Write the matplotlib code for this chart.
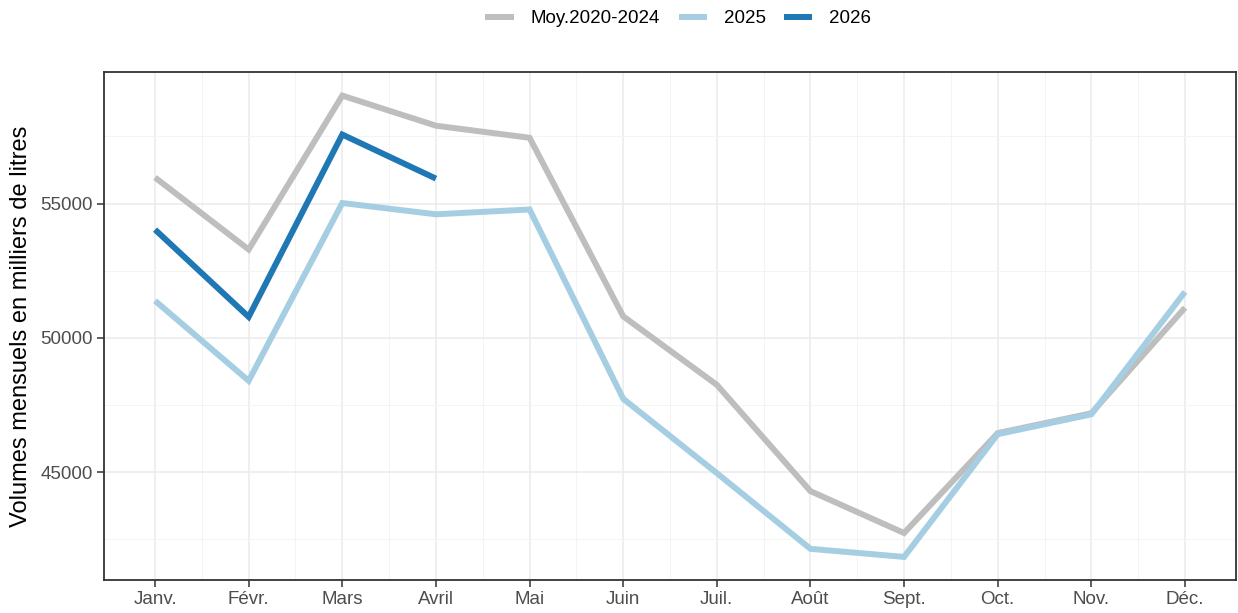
import matplotlib
matplotlib.use("Agg")
import matplotlib.pyplot as plt
from matplotlib.ticker import MultipleLocator

plt.rcParams['font.family'] = ['Liberation Sans', 'DejaVu Sans']

months = ["Janv.", "Févr.", "Mars", "Avril", "Mai", "Juin",
          "Juil.", "Août", "Sept.", "Oct.", "Nov.", "Déc."]
moy_2020_2024 = [55970, 53290, 59020, 57900, 57450, 50800,
                 48250, 44290, 42730, 46450, 47190, 51120]
vol_2025 = [51380, 48400, 55020, 54600, 54780, 47730,
            44960, 42140, 41840, 46410, 47150, 51710]
vol_2026 = [54030, 50780, 57570, 55930]

series = [
    ("Moy.2020-2024", moy_2020_2024, "#BEBEBE"),
    ("2025", vol_2025, "#A6CEE3"),
    ("2026", vol_2026, "#1F78B4"),
]

fig = plt.figure(figsize=(12.38, 6.13), dpi=100)
ax = fig.add_axes([104/1238, 33/613, (1236-104)/1238, (580-72)/613])

x = list(range(len(months)))
for label, vals, col in series:
    ax.plot(x[:len(vals)], vals, color=col, lw=4.3, label=label,
            solid_capstyle="butt", solid_joinstyle="miter", zorder=3)

ax.set_xlim(-0.545, 11.545)
ax.set_ylim(40980, 59900)
ax.set_xticks(x)
ax.set_xticklabels(months)
ax.yaxis.set_major_locator(MultipleLocator(5000))
ax.yaxis.set_minor_locator(MultipleLocator(2500))
ax.set_xticks([i + 0.5 for i in x[:-1]], minor=True)

ax.grid(which="major", color="#EBEBEB", lw=1.1, zorder=0)
ax.grid(which="minor", color="#F3F3F3", lw=0.6, zorder=0)
ax.tick_params(which="major", length=5, width=1.1, color="#333333",
               labelcolor="#4D4D4D", labelsize=13.5, pad=3)
ax.tick_params(which="minor", length=0)
for s in ax.spines.values():
    s.set_color("#333333")
    s.set_linewidth(1.3)

ax.set_ylabel("Volumes mensuels en milliers de litres", fontsize=17, labelpad=6)

# legend centred over the whole figure, like ggplot's top legend
fig.legend(loc="upper center", bbox_to_anchor=(0.548, 1.011),
           ncol=3, frameon=False, fontsize=13.5, handlelength=1.5,
           columnspacing=1.0, handletextpad=0.9)

fig.savefig("out.png", dpi=100)
